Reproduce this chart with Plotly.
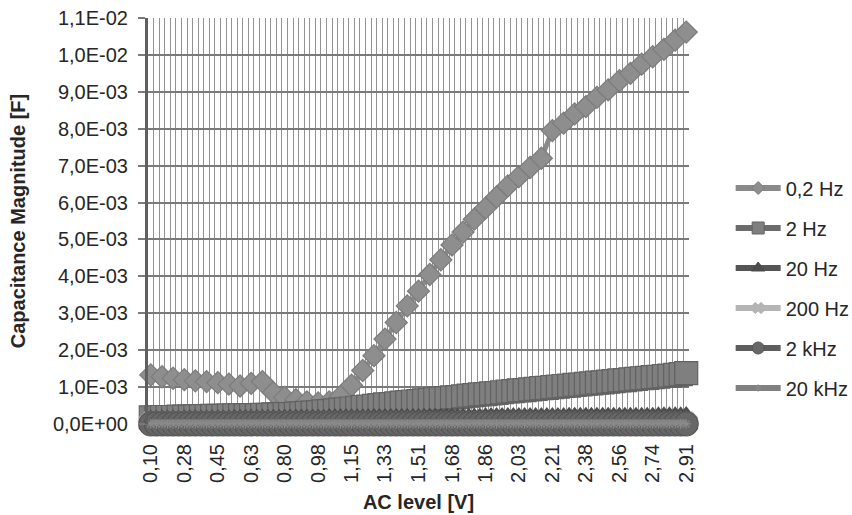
import plotly.graph_objects as go

# AC level categories [V]
ac_level = [0.100, 0.129, 0.159, 0.188, 0.217, 0.246, 0.276, 0.305, 0.334, 0.364,
            0.393, 0.422, 0.452, 0.481, 0.510, 0.539, 0.569, 0.598, 0.627, 0.657,
            0.686, 0.715, 0.744, 0.774, 0.803, 0.832, 0.862, 0.891, 0.920, 0.950,
            0.979, 1.008, 1.037, 1.067, 1.096, 1.125, 1.154, 1.184, 1.213, 1.242,
            1.272, 1.301, 1.330, 1.360, 1.389, 1.418, 1.447, 1.477, 1.506, 1.535,
            1.565, 1.594, 1.623, 1.653, 1.682, 1.711, 1.740, 1.770, 1.799, 1.828,
            1.858, 1.887, 1.916, 1.945, 1.975, 2.004, 2.033, 2.063, 2.092, 2.121,
            2.151, 2.180, 2.209, 2.238, 2.268, 2.297, 2.326, 2.356, 2.385, 2.414,
            2.443, 2.473, 2.502, 2.531, 2.561, 2.590, 2.619, 2.648, 2.678, 2.707,
            2.736, 2.766, 2.795, 2.824, 2.854, 2.883, 2.912]
x_tick_labels = ["0,10", "0,28", "0,45", "0,63", "0,80", "0,98", "1,15", "1,33", "1,51",
                 "1,68", "1,86", "2,03", "2,21", "2,38", "2,56", "2,74", "2,91"]

N = None
# capacitance values in units of 1E-03 F
c_02hz = [1.33, N, 1.28, N, 1.24, N, 1.20, N, 1.17, N,
          1.15, N, 1.12, N, 1.08, N, 1.03, N, 1.10, N,
          1.15, N, 0.85, N, 0.72, N, 0.66, N, 0.60, N,
          0.57, N, 0.60, N, 0.75, N, 1.05, N, 1.45, N,
          1.85, N, 2.30, N, 2.75, N, 3.20, N, 3.60, N,
          4.05, N, 4.45, N, 4.85, N, 5.20, N, 5.55, N,
          5.85, N, 6.15, N, 6.45, N, 6.70, N, 6.95, N,
          7.20, N, 7.95, N, 8.15, N, 8.40, N, 8.60, N,
          8.85, N, 9.05, N, 9.30, N, 9.50, N, 9.75, N,
          9.95, N, 10.15, N, 10.40, N, 10.62]
c_2hz = [0.18, 0.18, 0.19, 0.19, 0.19, 0.20, 0.20, 0.20, 0.21, 0.21,
         0.21, 0.22, 0.22, 0.22, 0.23, 0.23, 0.23, 0.24, 0.24, 0.24,
         0.25, 0.25, 0.26, 0.26, 0.27, 0.27, 0.28, 0.29, 0.30, 0.31,
         0.32, 0.34, 0.35, 0.37, 0.39, 0.40, 0.42, 0.44, 0.46, 0.47,
         0.49, 0.51, 0.53, 0.54, 0.56, 0.58, 0.59, 0.61, 0.62, 0.64,
         0.65, 0.67, 0.69, 0.70, 0.72, 0.73, 0.75, 0.77, 0.78, 0.80,
         0.81, 0.83, 0.84, 0.86, 0.88, 0.89, 0.91, 0.92, 0.94, 0.95,
         0.97, 0.98, 1.00, 1.01, 1.03, 1.04, 1.06, 1.07, 1.09, 1.10,
         1.12, 1.13, 1.15, 1.16, 1.18, 1.19, 1.21, 1.22, 1.24, 1.25,
         1.27, 1.28, 1.30, 1.31, 1.33, 1.35, 1.38]
c_20hz = [0.12, 0.12, 0.12, 0.12, 0.12, 0.12, 0.13, 0.13, 0.13, 0.13,
          0.13, 0.13, 0.13, 0.13, 0.13, 0.14, 0.14, 0.14, 0.14, 0.14,
          0.14, 0.14, 0.14, 0.14, 0.15, 0.15, 0.15, 0.15, 0.15, 0.15,
          0.15, 0.15, 0.16, 0.16, 0.16, 0.16, 0.16, 0.16, 0.16, 0.16,
          0.17, 0.17, 0.17, 0.17, 0.17, 0.17, 0.17, 0.17, 0.17, 0.18,
          0.18, 0.18, 0.18, 0.18, 0.18, 0.18, 0.18, 0.18, 0.18, 0.18,
          0.19, 0.19, 0.19, 0.19, 0.19, 0.19, 0.19, 0.19, 0.19, 0.19,
          0.19, 0.19, 0.19, 0.19, 0.19, 0.20, 0.20, 0.20, 0.20, 0.20,
          0.20, 0.20, 0.20, 0.20, 0.20, 0.20, 0.20, 0.20, 0.20, 0.20,
          0.20, 0.21, 0.21, 0.21, 0.21, 0.21, 0.22]
c_200hz = [0.02, 0.02, 0.02, 0.02, 0.02, 0.02, 0.02, 0.02, 0.02, 0.02,
           0.02, 0.02, 0.02, 0.02, 0.02, 0.02, 0.02, 0.02, 0.02, 0.02,
           0.02, 0.02, 0.02, 0.02, 0.02, 0.02, 0.02, 0.02, 0.02, 0.02,
           0.02, 0.02, 0.02, 0.02, 0.02, 0.02, 0.02, 0.02, 0.02, 0.02,
           0.02, 0.02, 0.02, 0.02, 0.02, 0.02, 0.02, 0.02, 0.02, 0.02,
           0.02, 0.02, 0.02, 0.02, 0.02, 0.02, 0.02, 0.02, 0.02, 0.02,
           0.02, 0.02, 0.02, 0.02, 0.02, 0.02, 0.02, 0.02, 0.02, 0.02,
           0.02, 0.02, 0.02, 0.02, 0.02, 0.02, 0.02, 0.02, 0.02, 0.02,
           0.02, 0.02, 0.02, 0.02, 0.02, 0.02, 0.02, 0.02, 0.02, 0.02,
           0.02, 0.02, 0.02, 0.02, 0.02, 0.02, 0.02]
c_2khz = [0.005, 0.005, 0.005, 0.005, 0.005, 0.005, 0.005, 0.005, 0.005, 0.005,
          0.005, 0.005, 0.005, 0.005, 0.005, 0.005, 0.005, 0.005, 0.005, 0.005,
          0.005, 0.005, 0.005, 0.005, 0.005, 0.005, 0.005, 0.005, 0.005, 0.005,
          0.005, 0.005, 0.005, 0.005, 0.005, 0.005, 0.005, 0.005, 0.005, 0.005,
          0.005, 0.005, 0.005, 0.005, 0.005, 0.005, 0.005, 0.005, 0.005, 0.005,
          0.005, 0.005, 0.005, 0.005, 0.005, 0.005, 0.005, 0.005, 0.005, 0.005,
          0.005, 0.005, 0.005, 0.005, 0.005, 0.005, 0.005, 0.005, 0.005, 0.005,
          0.005, 0.005, 0.005, 0.005, 0.005, 0.005, 0.005, 0.005, 0.005, 0.005,
          0.005, 0.005, 0.005, 0.005, 0.005, 0.005, 0.005, 0.005, 0.005, 0.005,
          0.005, 0.005, 0.005, 0.005, 0.005, 0.005, 0.005]
c_20khz = [0.001, 0.001, 0.001, 0.001, 0.001, 0.001, 0.001, 0.001, 0.001, 0.001,
           0.001, 0.001, 0.001, 0.001, 0.001, 0.001, 0.001, 0.001, 0.001, 0.001,
           0.001, 0.001, 0.001, 0.001, 0.001, 0.001, 0.001, 0.001, 0.001, 0.001,
           0.001, 0.001, 0.001, 0.001, 0.001, 0.001, 0.001, 0.001, 0.001, 0.001,
           0.001, 0.001, 0.001, 0.001, 0.001, 0.001, 0.001, 0.001, 0.001, 0.001,
           0.001, 0.001, 0.001, 0.001, 0.001, 0.001, 0.001, 0.001, 0.001, 0.001,
           0.001, 0.001, 0.001, 0.001, 0.001, 0.001, 0.001, 0.001, 0.001, 0.001,
           0.001, 0.001, 0.001, 0.001, 0.001, 0.001, 0.001, 0.001, 0.001, 0.001,
           0.001, 0.001, 0.001, 0.001, 0.001, 0.001, 0.001, 0.001, 0.001, 0.001,
           0.001, 0.001, 0.001, 0.001, 0.001, 0.001, 0.001]

series_names = ["0,2 Hz", "2 Hz", "20 Hz", "200 Hz", "2 kHz", "20 kHz"]
y_tick_vals = [0.000, 0.001, 0.002, 0.003, 0.004, 0.005, 0.006,
               0.007, 0.008, 0.009, 0.010, 0.011]
y_tick_text = ["0,0E+00", "1,0E-03", "2,0E-03", "3,0E-03", "4,0E-03", "5,0E-03",
               "6,0E-03", "7,0E-03", "8,0E-03", "9,0E-03", "1,0E-02", "1,1E-02"]
label_every = 6

def to_farad(vals):
    return [None if v is None else v * 1e-3 for v in vals]

styles = [
    dict(line="#8a8a8a", fill="#8e8e8e", edge="#7c7c7c", symbol="diamond", size=17, lsize=10),
    dict(line="#6b6b6b", fill="#7f7f7f", edge="#626262", symbol="square", size=23, lsize=12),
    dict(line="#555555", fill="#4d4d4d", edge="#4d4d4d", symbol="triangle-up", size=18, lsize=12),
    dict(line="#b4b4b4", fill="#b4b4b4", edge="#b4b4b4", symbol="x", size=20, lsize=10),
    dict(line="#5e5e5e", fill="#676767", edge="#555555", symbol="circle", size=24, lsize=12),
    dict(line="#808080", fill="#8a8a8a", edge="#8a8a8a", symbol="asterisk-open", size=8, lsize=6),
]
all_series = [c_02hz, c_2hz, c_20hz, c_200hz, c_2khz, c_20khz]
line_widths = [5, 5, 5, 5, 5, 9]

fig = go.Figure()
for name, vals, st, lw in zip(series_names, all_series, styles, line_widths):
    fig.add_trace(go.Scatter(
        x=ac_level, y=to_farad(vals), name=name, mode="lines+markers",
        connectgaps=True, cliponaxis=False, showlegend=False,
        line=dict(color=st["line"], width=lw),
        marker=dict(symbol=st["symbol"], size=st["size"], color=st["fill"],
                    line=dict(color=st["edge"], width=1.2)),
    ))
# legend entries
for i, (name, st) in enumerate(zip(series_names, styles)):
    fig.add_trace(go.Scatter(
        x=[None], y=[None], name=name, mode="lines+markers",
        legendgroup=str(i),
        line=dict(color=st["line"], width=6),
        marker=dict(symbol=st["symbol"], size=st["lsize"], color=st["fill"],
                    line=dict(color=st["edge"], width=1)),
    ))

step = (ac_level[-1] - ac_level[0]) / (len(ac_level) - 1)
font_family = "Liberation Sans, Arial, sans-serif"

fig.update_layout(
    width=852, height=515,
    margin=dict(l=148, r=163, t=18, b=91, autoexpand=False),
    paper_bgcolor="white", plot_bgcolor="white",
    font=dict(family=font_family, size=20, color="#262626"),
    legend=dict(x=1.077, xanchor="left", y=0.335, yanchor="middle",
                tracegroupgap=11, itemwidth=45,
                font=dict(size=20, color="#262626")),
    xaxis=dict(
        range=[ac_level[0] - step / 2, ac_level[-1] + step / 2],
        tickmode="array", tickvals=ac_level[::label_every], ticktext=x_tick_labels,
        tickangle=-90, ticks="", showgrid=False, zeroline=False, showline=False,
        ticklabelstandoff=15,
        minor=dict(showgrid=True, tickmode="linear", tick0=ac_level[0] - step / 2,
                   dtick=step, gridcolor="#929292", gridwidth=1.3, ticks=""),
        title=dict(text="<b>AC level [V]</b>", standoff=13, font=dict(size=20)),
    ),
    yaxis=dict(
        range=[0, 0.011], tickmode="array", tickvals=y_tick_vals, ticktext=y_tick_text,
        showgrid=True, gridcolor="#7a7a7a", gridwidth=2, zeroline=False,
        showline=True, linecolor="#5f5f5f", linewidth=3,
        ticks="outside", ticklen=7, tickwidth=2, tickcolor="#7a7a7a",
        ticklabelstandoff=6,
        title=dict(text="<b>Capacitance Magnitude [F]</b>", standoff=22, font=dict(size=20)),
    ),
)

fig.write_html("out.html")
